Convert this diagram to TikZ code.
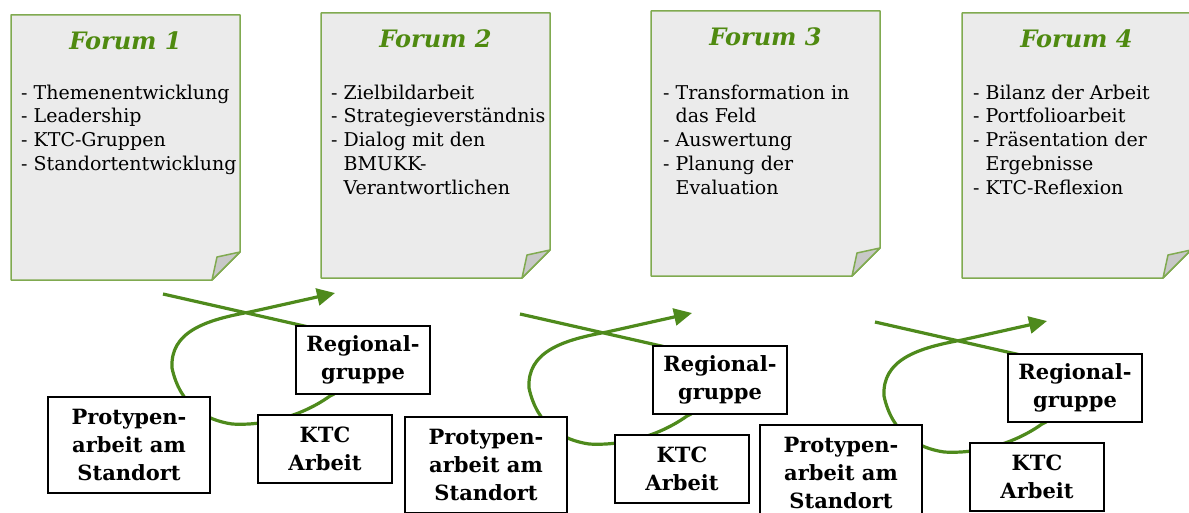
\documentclass[tikz,border=0pt]{standalone}
\usepackage{fontspec}
\setmainfont{DejaVu Serif}
\usetikzlibrary{arrows.meta}

\definecolor{titlegreen}{RGB}{79,138,16}
\definecolor{linegreen}{RGB}{78,138,28}
\definecolor{noteline}{RGB}{128,170,80}
\definecolor{notefill}{RGB}{235,235,235}
\definecolor{foldfill}{RGB}{200,200,200}

\begin{document}
\begin{tikzpicture}[x=1pt, y=-1pt,
    note/.style={draw=noteline, fill=notefill, line width=1.5pt, line join=round},
    fold/.style={draw=noteline, fill=foldfill, line width=1.5pt, line join=round},
    title/.style={anchor=base, inner sep=0pt, text=titlegreen, font=\fontsize{24}{28}\selectfont\bfseries\itshape},
    items/.style={anchor=north west, inner sep=0pt, align=left, font=\fontsize{19}{23.7}\selectfont},
    stage/.style={draw, fill=white, line width=1.2pt, inner sep=0pt, align=center, font=\fontsize{21}{28}\selectfont\bfseries},
    cycleline/.style={draw=linegreen, line width=3.2pt, -{Triangle[length=18pt,width=17pt]}}]
    \useasboundingbox (0,0) rectangle (1189,513);

    % Notizblaetter der Foren
    \foreach \n/\x/\y in {1/11/15, 2/321/13, 3/651/11, 4/962/13} {
        \draw[note] (\x,\y) -- ++(229,0) -- ++(0,237) -- ++(-28,28) -- ++(-201,0) -- cycle;
        \draw[fold] (\x+201,\y+265) -- (\x+206,\y+242) -- (\x+229,\y+237) -- cycle;
        \node[title] (forum\n) at (\x+114.5,\y+35) {Forum \n};
    }

    \node[items] (list1) at (21,84.6) {- Themenentwicklung\\- Leadership\\- KTC-Gruppen\\- Standortentwicklung};
    \node[items] (list2) at (331,84.6) {- Zielbildarbeit\\- Strategieverständnis\\- Dialog mit den\\\hphantom{-}\ BMUKK-\\\hphantom{-}\ Verantwortlichen};
    \node[items] (list3) at (663,84.6) {- Transformation in\\\hphantom{-}\ das Feld\\- Auswertung\\- Planung der\\\hphantom{-}\ Evaluation};
    \node[items] (list4) at (973,84.6) {- Bilanz der Arbeit\\- Portfolioarbeit\\- Präsentation der\\\hphantom{-}\ Ergebnisse\\- KTC-Reflexion};

    % Kreislauf unter jedem Forum
    \foreach \g/\dx/\dy in {1/0/0, 2/357/20, 3/712/28} {
        \begin{scope}[shift={(\dx,\dy)}]
            \coordinate (start\g) at (163,294);
            \coordinate (tip\g) at (335,293);
            \draw[cycleline] (start\g) -- (335,333)
                .. controls (372,342) and (368,378) .. (330,396)
                .. controls (302,416) and (265,426) .. (232,424)
                .. controls (205,420) and (180,405) .. (172,368)
                .. controls (170,332) and (205,320) .. (250,312) -- (tip\g);
            \node[stage, minimum width=134pt, minimum height=68pt] (reg\g) at (363,360) {Regional-\\gruppe};
            \node[stage, minimum width=134pt, minimum height=68pt] (ktc\g) at (325,449) {KTC\\Arbeit};
            \node[stage, minimum width=162pt, minimum height=96pt] (proto\g) at (129,445) {Protypen-\\arbeit am\\Standort};
        \end{scope}
    }
\end{tikzpicture}
\end{document}
